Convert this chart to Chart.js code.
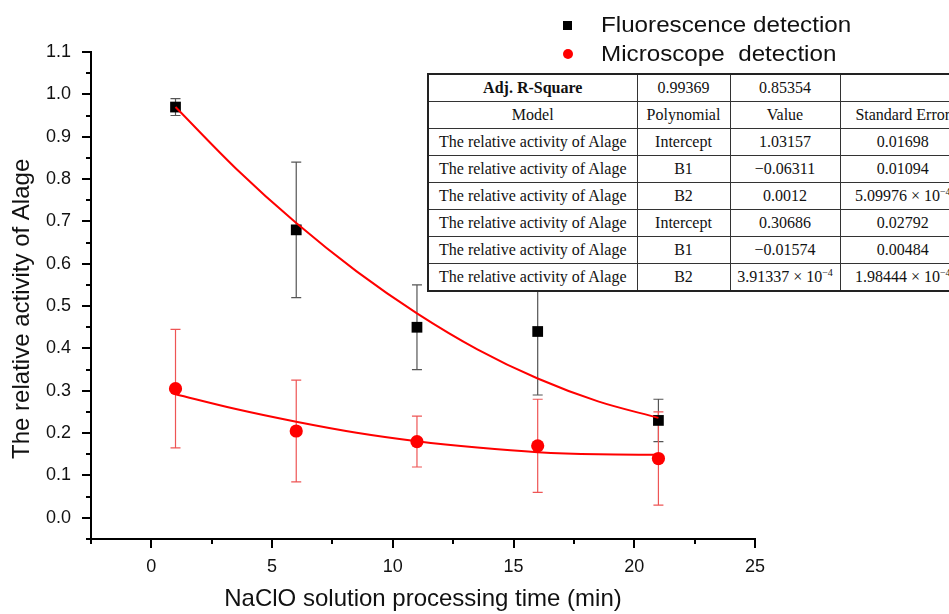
<!DOCTYPE html>
<html>
<head>
<meta charset="utf-8">
<script src="https://cdn.jsdelivr.net/npm/chart.js@4"></script>
<style>
html, body { margin: 0; padding: 0; background: #fff; overflow: hidden; }
#wrap { position: relative; width: 949px; height: 614px; overflow: hidden; }
#chart { position: absolute; left: 0; top: 0; }
.key { position: absolute; font-family: "Liberation Sans", Arial, sans-serif; font-size: 22px; color: #111;
  white-space: pre; line-height: 24px; transform: scaleX(1.1); transform-origin: left center; }
.mark { position: absolute; }
#fit { position: absolute; left: 427px; top: 73px; width: 538px; border-collapse: collapse; background: #fff;
  font-family: "Liberation Serif", "Times New Roman", serif; font-size: 16px; color: #111;
  table-layout: fixed; border: 2px solid #222; }
#fit td { border: 1px solid #333; height: 26px; padding: 0; text-align: center; white-space: nowrap; overflow: hidden; }
#fit sup { font-size: 10px; }
</style>
</head>
<body>
<div id="wrap">
  <canvas id="chart" width="949" height="614"></canvas>
  <div class="mark" style="left:563px;top:21px;width:9px;height:9px;background:#000"></div>
  <div class="key" style="left:601px;top:13px">Fluorescence detection</div>
  <div class="mark" style="left:563px;top:49px;width:10px;height:10px;border-radius:50%;background:#ff0000"></div>
  <div class="key" style="left:601px;top:42px">Microscope  detection</div>
  <table id="fit">
    <colgroup><col style="width:209px"><col style="width:93px"><col style="width:110px"><col style="width:126px"></colgroup>
    <tr><td><b>Adj. R-Square</b></td><td>0.99369</td><td>0.85354</td><td></td></tr>
    <tr><td>Model</td><td>Polynomial</td><td>Value</td><td>Standard Error</td></tr>
    <tr><td>The relative activity of Alage</td><td>Intercept</td><td>1.03157</td><td>0.01698</td></tr>
    <tr><td>The relative activity of Alage</td><td>B1</td><td>−0.06311</td><td>0.01094</td></tr>
    <tr><td>The relative activity of Alage</td><td>B2</td><td>0.0012</td><td>5.09976 × 10<sup>−4</sup></td></tr>
    <tr><td>The relative activity of Alage</td><td>Intercept</td><td>0.30686</td><td>0.02792</td></tr>
    <tr><td>The relative activity of Alage</td><td>B1</td><td>−0.01574</td><td>0.00484</td></tr>
    <tr><td>The relative activity of Alage</td><td>B2</td><td>3.91337 × 10<sup>−4</sup></td><td>1.98444 × 10<sup>−4</sup></td></tr>
  </table>
</div>
<script>
// measured points
const times = [1, 6, 11, 16, 21];
const fluorValues = [0.97, 0.68, 0.45, 0.44, 0.23];
const fluorErrors = [0.02, 0.16, 0.10, 0.15, 0.05];
const microValues = [0.305, 0.205, 0.18, 0.17, 0.14];
const microErrors = [0.14, 0.12, 0.06, 0.11, 0.11];

// fitted curves
const fitTimes = [1, 3.5, 6, 8.5, 11, 13.5, 16, 18.5, 21];
const fluorFit = [0.970, 0.825, 0.696, 0.582, 0.483, 0.398, 0.329, 0.275, 0.236];
const microFit = [0.292, 0.257, 0.227, 0.201, 0.181, 0.166, 0.155, 0.150, 0.149];

// axis ticks
const xTicks = [0, 5, 10, 15, 20, 25];
const yTicks = [0.0, 0.1, 0.2, 0.3, 0.4, 0.5, 0.6, 0.7, 0.8, 0.9, 1.0, 1.1];

const font = "'Liberation Sans', Arial, sans-serif";
const toPoints = (xs, ys) => xs.map((x, i) => ({ x: x, y: ys[i] }));

// vertical error bars with caps
const errorBars = {
  id: "errorBars",
  beforeDatasetsDraw(chart) {
    const { ctx, scales } = chart;
    chart.data.datasets.forEach((ds) => {
      if (!ds.errors) return;
      ctx.save();
      ctx.strokeStyle = ds.errorColor;
      ctx.lineWidth = 1.2;
      ds.data.forEach((p, j) => {
        const px = scales.x.getPixelForValue(p.x);
        const top = scales.y.getPixelForValue(p.y + ds.errors[j]);
        const bot = scales.y.getPixelForValue(p.y - ds.errors[j]);
        ctx.beginPath();
        ctx.moveTo(px, top); ctx.lineTo(px, bot);
        ctx.moveTo(px - 5, top); ctx.lineTo(px + 5, top);
        ctx.moveTo(px - 5, bot); ctx.lineTo(px + 5, bot);
        ctx.stroke();
      });
      ctx.restore();
    });
  }
};

// outward major/minor tick marks
const tickMarks = {
  id: "tickMarks",
  afterDraw(chart) {
    const { ctx, scales, chartArea } = chart;
    ctx.save();
    ctx.strokeStyle = "#000";
    ctx.lineWidth = 2;
    ctx.beginPath();
    for (let v = -2.5; v <= 25.001; v += 2.5) {
      const px = Math.round(scales.x.getPixelForValue(v));
      const len = Math.abs(v % 5) < 0.01 ? 9 : 5;
      ctx.moveTo(px, chartArea.bottom); ctx.lineTo(px, chartArea.bottom + len);
    }
    for (let k = -1; k <= 22; k++) {
      const py = Math.round(scales.y.getPixelForValue(k * 0.05));
      const len = k % 2 === 0 ? 9 : 5;
      ctx.moveTo(chartArea.left, py); ctx.lineTo(chartArea.left - len, py);
    }
    ctx.stroke();
    ctx.restore();
  }
};

new Chart(document.getElementById("chart"), {
  type: "scatter",
  data: {
    datasets: [
      {
        label: "Fluorescence fit",
        data: toPoints(fitTimes, fluorFit),
        showLine: true,
        borderColor: "#ff0000",
        borderWidth: 2,
        pointRadius: 0,
        cubicInterpolationMode: "monotone",
        order: 0
      },
      {
        label: "Microscope fit",
        data: toPoints(fitTimes, microFit),
        showLine: true,
        borderColor: "#ff0000",
        borderWidth: 2,
        pointRadius: 0,
        cubicInterpolationMode: "monotone",
        order: 0
      },
      {
        label: "Fluorescence detection",
        data: toPoints(times, fluorValues),
        errors: fluorErrors,
        errorColor: "#555",
        pointStyle: "rect",
        pointRadius: 7.6,
        backgroundColor: "#000",
        borderColor: "#000",
        borderWidth: 0,
        order: 1
      },
      {
        label: "Microscope detection",
        data: toPoints(times, microValues),
        errors: microErrors,
        errorColor: "#ee5555",
        pointStyle: "circle",
        pointRadius: 6.6,
        backgroundColor: "#ff0000",
        borderColor: "#ff0000",
        borderWidth: 0,
        order: 1
      }
    ]
  },
  options: {
    responsive: false,
    animation: false,
    layout: { padding: { left: 6, top: 52, right: 194, bottom: 0 } },
    plugins: { legend: { display: false }, tooltip: { enabled: false } },
    scales: {
      x: {
        type: "linear",
        min: -2.5,
        max: 25,
        afterBuildTicks: (s) => { s.ticks = xTicks.map((v) => ({ value: v })); },
        afterFit: (s) => { s.height = 75; },
        grid: { display: false, drawTicks: false },
        border: { display: true, color: "#000", width: 2 },
        ticks: { padding: 17, color: "#111", font: { family: font, size: 18 }, maxRotation: 0, autoSkip: false },
        title: { display: true, text: "NaClO solution processing time (min)", color: "#111",
                 font: { family: font, size: 24 }, padding: { top: 0, bottom: 0 } }
      },
      y: {
        type: "linear",
        min: -0.05,
        max: 1.1,
        afterBuildTicks: (s) => { s.ticks = yTicks.map((v) => ({ value: v })); },
        afterFit: (s) => { s.width = 85; },
        grid: { display: false, drawTicks: false },
        border: { display: true, color: "#000", width: 2 },
        ticks: { padding: 20, color: "#111", font: { family: font, size: 18 },
                 callback: (v) => Number(v).toFixed(1), autoSkip: false },
        title: { display: true, text: "The relative activity of Alage    ", color: "#111",
                 font: { family: font, size: 24 }, padding: { top: 2, bottom: 0 } }
      }
    }
  },
  plugins: [errorBars, tickMarks]
});
</script>
</body>
</html>
